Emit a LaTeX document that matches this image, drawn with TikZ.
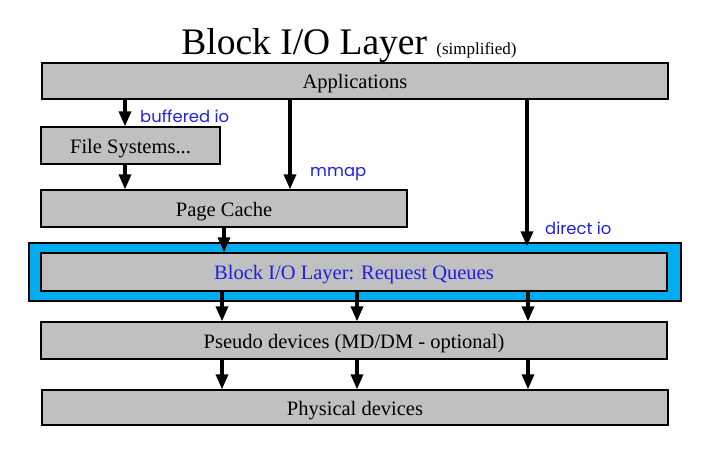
\documentclass[tikz,border=0pt]{standalone}
\usepackage{fontspec}
\setmainfont{Liberation Serif}
\newfontfamily\labelfont{Poppins}
\usetikzlibrary{arrows.meta,positioning}

\definecolor{boxgray}{RGB}{192,192,192}
\definecolor{queuecyan}{RGB}{0,174,239}
\definecolor{labelblue}{RGB}{30,30,230}

\begin{document}
\begin{tikzpicture}[
  x=0.3mm, y=-0.3mm,
  layer/.style={
    draw,
    line width=1.1pt,
    fill=boxgray,
    inner sep=0pt,
    font=\fontsize{17.5}{20}\selectfont,
    text height=14pt,
    text depth=1pt,
    minimum height=11.1mm
  },
  frame/.style={
    draw,
    line width=1.1pt,
    fill=queuecyan,
    inner sep=0pt,
    minimum width=195.6mm,
    minimum height=17.4mm
  },
  path/.style={
    font=\labelfont\fontsize{14}{16}\selectfont,
    text=labelblue,
    anchor=west,
    inner sep=0pt
  },
  arrow/.style={-{Triangle[length=4.5mm, width=3.6mm]}, line width=2.8pt}
]
\useasboundingbox (0,0) rectangle (704,450);

% title
\node[anchor=base] (title) at (349,55)
  {\fontsize{32}{38}\selectfont Block I/O Layer \fontsize{14.5}{16}\selectfont(simplified)};

% layers
\node[layer, minimum width=187.8mm, minimum height=10.8mm] (apps) at (355,81) {Applications};
\node[layer, minimum width=53.7mm] (fs) at (130.5,145.5) {File Systems...};
\node[layer, minimum width=109.8mm] (cache) at (224,208.5) {Page Cache};
\node[frame] (queue) at (355,272) {};
\node[layer, minimum width=187.8mm, minimum height=11.4mm, text=labelblue] (block) at (354,272) {Block I/O Layer: Request Queues};
\node[layer, minimum width=187.8mm] (pseudo) at (354,340.5) {Pseudo devices (MD/DM - optional)};
\node[layer, minimum width=187.8mm, minimum height=10.5mm] (phys) at (355,407.5) {Physical devices};

% columns for the arrows
\coordinate (bufcol) at (125,0);
\coordinate (mmapcol) at (290,0);
\coordinate (directcol) at (527,0);
\coordinate (col1) at (222,0);
\coordinate (col2) at (357,0);
\coordinate (col3) at (528,0);

% labels
\node[path] (buflabel) at (140,116) {buffered io};
\node[path] (mmaplabel) at (310,174) {mmap};
\node[path] (directlabel) at (545,228) {direct io};

\draw[arrow] (apps.south -| bufcol) -- (fs.north -| bufcol);
\draw[arrow] (fs.south -| bufcol) -- (cache.north -| bufcol);
\draw[arrow] (apps.south -| mmapcol) -- (cache.north -| mmapcol);
\draw[arrow] (apps.south -| directcol) -- ([yshift=-1.2mm]queue.north -| directcol);
\draw[arrow] (cache.south) -- (block.north -| cache.south);

\foreach \c in {col1,col2,col3} {
  \draw[arrow] (block.south -| \c) -- (pseudo.north -| \c);
  \draw[arrow] (pseudo.south -| \c) -- (phys.north -| \c);
}

\end{tikzpicture}
\end{document}
